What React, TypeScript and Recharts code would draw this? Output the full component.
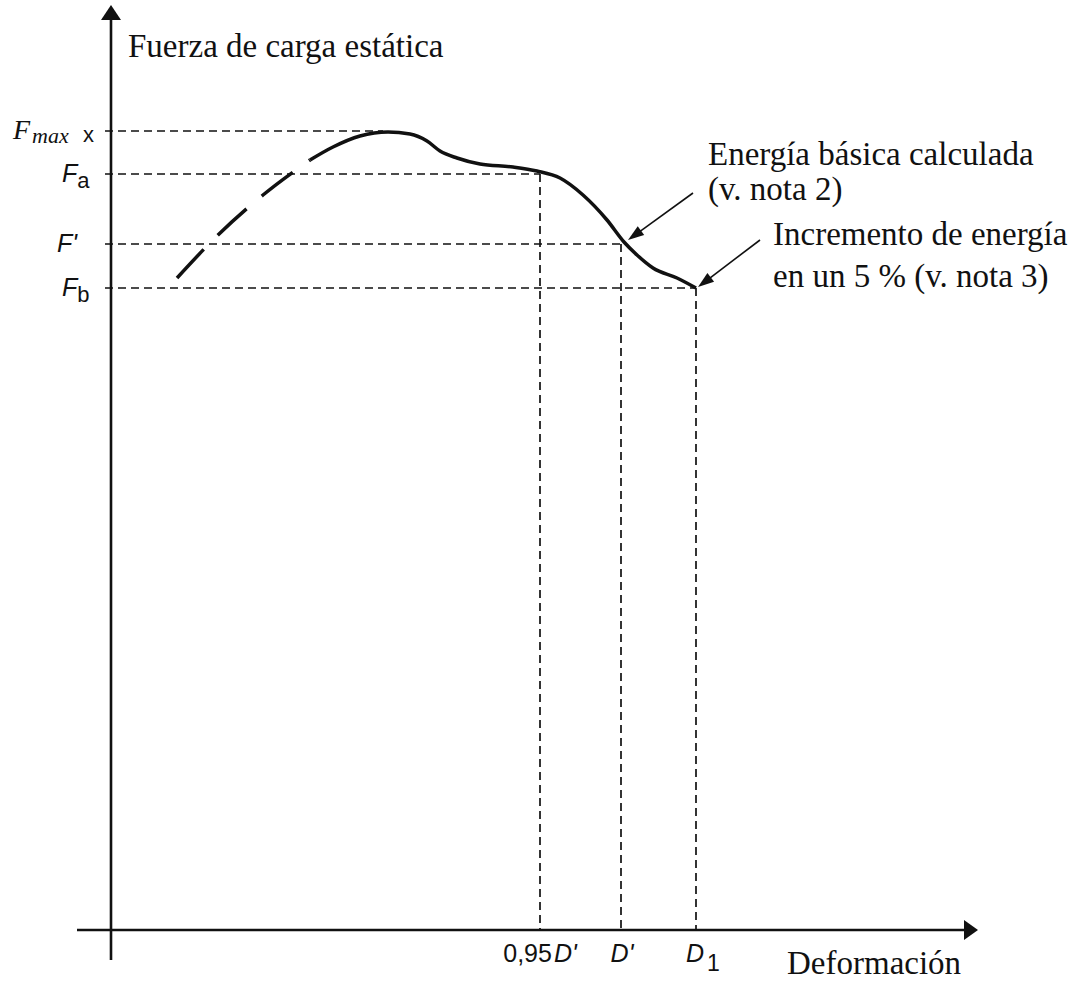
import React from 'react'
import { ComposedChart, Line, XAxis, YAxis, ReferenceLine, ReferenceDot, Label } from 'recharts'

// curve (deformation vs static load force, arbitrary units)
const solidDeformation = [19.9, 22.2, 24.9, 27.7, 29.9, 31.6, 32.9, 34.6, 36.9, 40.2, 42.6, 44.9, 47.2, 49.6, 51.3, 52.6, 54.2, 56.6, 58.5]
const solidForce = [77.0, 78.3, 79.4, 79.8, 79.6, 78.9, 77.9, 77.2, 76.6, 76.3, 75.9, 75.2, 73.5, 71.0, 68.8, 67.5, 66.2, 65.2, 64.2]
const dashedDeformation = [6.6, 10.7, 15.2, 19.9]
const dashedForce = [65.2, 69.5, 73.5, 77.0]

// levels marked on the axes
const F_MAX = 79.9
const F_A = 75.6
const F_PRIME = 68.6
const F_B = 64.2
const PEAK_D = 27.2
const D_095 = 42.9
const D_PRIME = 51.0
const D_1 = 58.5

const forceTicks = [F_B, F_PRIME, F_A, F_MAX]
const deformationTicks = [D_095, D_PRIME, D_1]

const solidData = solidDeformation.map((d, i) => ({ deformation: d, force: solidForce[i] }))
const dashedData = dashedDeformation.map((d, i) => ({ deformation: d, force: dashedForce[i] }))

const SERIF = '"Liberation Serif", "Times New Roman", serif'
const SANS = '"Liberation Sans", Arial, sans-serif'
const INK = '#111'

function arrowShape(head: number, half: number) {
  return (p: any) => {
    const { x1, y1, x2, y2 } = p
    if ([x1, y1, x2, y2].some((v) => typeof v !== 'number')) return <g />
    const dx = x2 - x1
    const dy = y2 - y1
    const len = Math.hypot(dx, dy) || 1
    const ux = dx / len
    const uy = dy / len
    const bx = x2 - ux * head
    const by = y2 - uy * head
    const pts = `${x2},${y2} ${bx - uy * half},${by + ux * half} ${bx + uy * half},${by - ux * half}`
    return (
      <g>
        <line x1={x1} y1={y1} x2={bx + ux * 2} y2={by + uy * 2} stroke={INK} strokeWidth={p.strokeWidth} />
        <polygon points={pts} fill={INK} />
      </g>
    )
  }
}

function ForceTick({ x, y, payload }: any) {
  const v = payload?.value
  if (v === F_MAX) {
    return (
      <g fill={INK}>
        <text x={x - 64} y={y + 8} fontFamily={SERIF} fontStyle="italic" fontSize={28}>
          F<tspan fontSize={22} dx={2} dy={4}>max</tspan>
        </text>
        <text x={x + 6} y={y + 11} fontFamily={SANS} fontSize={22}>x</text>
      </g>
    )
  }
  const sub = v === F_A ? 'a' : v === F_B ? 'b' : ''
  const prime = v === F_PRIME
  return (
    <g fill={INK}>
      <text x={prime ? x - 20 : x - 15} y={y + 8} fontFamily={SANS} fontSize={25}>
        <tspan fontStyle="italic">{prime ? "F'" : 'F'}</tspan>
        {sub && <tspan fontSize={22} dy={6}>{sub}</tspan>}
      </text>
    </g>
  )
}

function DeformationTick({ x, y, payload }: any) {
  const v = payload?.value
  if (v === D_095) {
    return (
      <text x={x} y={y + 2} textAnchor="middle" fontFamily={SANS} fontSize={25} fill={INK}>
        0,95<tspan fontStyle="italic" dx={2}>D'</tspan>
      </text>
    )
  }
  if (v === D_PRIME) {
    return (
      <text x={x + 1} y={y + 2} textAnchor="middle" fontFamily={SANS} fontSize={25} fill={INK}>
        <tspan fontStyle="italic">D'</tspan>
      </text>
    )
  }
  return (
    <text x={x - 10} y={y + 2} fontFamily={SANS} fontSize={25} fill={INK}>
      <tspan fontStyle="italic">D</tspan>
      <tspan fontSize={23} dx={3} dy={9}>1</tspan>
    </text>
  )
}

function note(key: string, x: number, y: number, text: string) {
  return (
    <ReferenceDot key={key} x={x} y={y} r={0} ifOverflow="visible" fill="none" stroke="none">
      <Label
        content={(p: any) => (
          <text x={p.viewBox?.x ?? 0} y={p.viewBox?.y ?? 0} fontFamily={SERIF} fontSize={33} fill={INK}>
            {text}
          </text>
        )}
      />
    </ReferenceDot>
  )
}

const guide = { stroke: INK, strokeWidth: 1.7, strokeDasharray: '8 5', ifOverflow: 'visible' as const }

export default function App() {
  return (
    <div style={{ position: 'fixed', left: 0, top: 0, background: '#fff' }}>
      <ComposedChart width={1084} height={982} margin={{ top: 5, right: 106, bottom: 0, left: 7 }}>
        <XAxis
          type="number"
          dataKey="deformation"
          domain={[-3.4, 86.7]}
          allowDataOverflow
          ticks={deformationTicks}
          interval={0}
          height={22}
          tickSize={0}
          tickMargin={0}
          axisLine={false}
          tickLine={false}
          tick={(p: any) => <DeformationTick {...p} />}
        />
        <YAxis
          type="number"
          dataKey="force"
          domain={[-3, 92.5]}
          allowDataOverflow
          ticks={forceTicks}
          interval={0}
          width={70}
          tickSize={0}
          tickMargin={0}
          axisLine={false}
          tickLine={false}
          tick={(p: any) => <ForceTick {...p} />}
        />

        {/* dashed guides to the axes */}
        <ReferenceLine segment={[{ x: -0.6, y: F_MAX }, { x: PEAK_D, y: F_MAX }]} {...guide} />
        <ReferenceLine segment={[{ x: -0.6, y: F_A }, { x: D_095, y: F_A }]} {...guide} />
        <ReferenceLine segment={[{ x: -0.6, y: F_PRIME }, { x: D_PRIME, y: F_PRIME }]} {...guide} />
        <ReferenceLine segment={[{ x: -0.6, y: F_B }, { x: D_1, y: F_B }]} {...guide} />
        <ReferenceLine segment={[{ x: D_095, y: F_A }, { x: D_095, y: 0 }]} {...guide} />
        <ReferenceLine segment={[{ x: D_PRIME, y: F_PRIME }, { x: D_PRIME, y: 0 }]} {...guide} />
        <ReferenceLine segment={[{ x: D_1, y: F_B }, { x: D_1, y: 0 }]} {...guide} />

        {/* axes with arrow heads */}
        <ReferenceLine
          segment={[{ x: 0, y: -3 }, { x: 0, y: 92.5 }]}
          ifOverflow="visible"
          stroke={INK}
          strokeWidth={2.6}
          shape={arrowShape(15, 10)}
        />
        <ReferenceLine
          segment={[{ x: -3.4, y: 0 }, { x: 86.7, y: 0 }]}
          ifOverflow="visible"
          stroke={INK}
          strokeWidth={2.6}
          shape={arrowShape(14, 10)}
        />

        {/* pointers to the annotated points */}
        <ReferenceLine
          segment={[{ x: 58.2, y: 73.7 }, { x: 51.7, y: 69.0 }]}
          ifOverflow="visible"
          stroke={INK}
          strokeWidth={1.6}
          shape={arrowShape(16, 5.5)}
        />
        <ReferenceLine
          segment={[{ x: 64.9, y: 69.0 }, { x: 58.7, y: 64.3 }]}
          ifOverflow="visible"
          stroke={INK}
          strokeWidth={1.6}
          shape={arrowShape(16, 5.5)}
        />

        <Line
          data={dashedData}
          dataKey="force"
          type="monotone"
          stroke={INK}
          strokeWidth={3.5}
          strokeDasharray="39 20"
          dot={false}
          activeDot={false}
          isAnimationActive={false}
        />
        <Line
          data={solidData}
          dataKey="force"
          type="monotone"
          stroke={INK}
          strokeWidth={3.5}
          dot={false}
          activeDot={false}
          isAnimationActive={false}
        />

        {note('title', 1.7, 87.3, 'Fuerza de carga estática')}
        {note('e1', 59.7, 76.5, 'Energía básica calculada')}
        {note('e2', 59.7, 73.0, '(v. nota 2)')}
        {note('i1', 66.2, 68.5, 'Incremento de energía')}
        {note('i2', 66.2, 64.3, 'en un 5 % (v. nota 3)')}
        {note('xlabel', 67.6, -4.4, 'Deformación')}
      </ComposedChart>
    </div>
  )
}
